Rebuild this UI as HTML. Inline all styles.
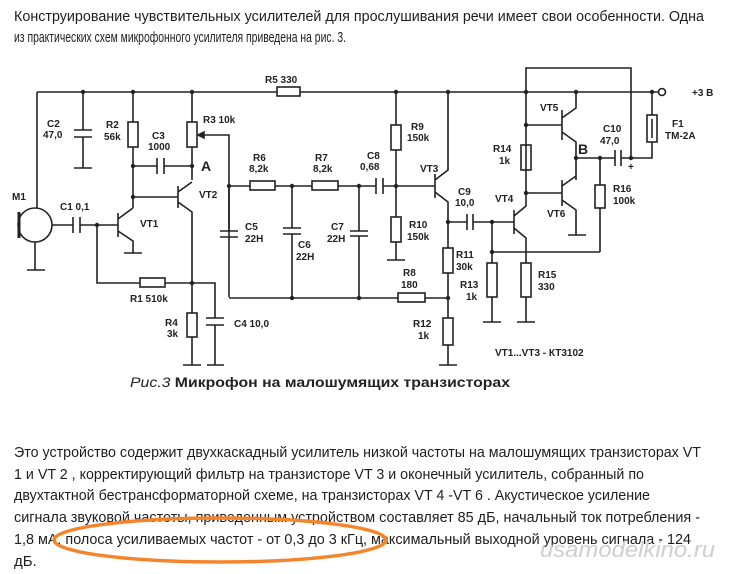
<!DOCTYPE html>
<html><head><meta charset="utf-8"><style>
body{margin:0;background:#fff;width:729px;height:574px;overflow:hidden}
svg{display:block}
.t{font-family:"Liberation Sans","DejaVu Sans",sans-serif;font-size:15px;fill:#1e1e1e}
.l{font-family:"Liberation Sans",sans-serif;font-size:10px;font-weight:bold;fill:#222}
</style></head><body>
<svg width="729" height="574" viewBox="0 0 729 574" xmlns="http://www.w3.org/2000/svg">
<g class="t">
<text x="14" y="21" textLength="690" lengthAdjust="spacingAndGlyphs">Конструирование чувствительных усилителей для прослушивания речи имеет свои особенности. Одна</text>
<text x="14" y="42" textLength="332" lengthAdjust="spacingAndGlyphs">из практических схем микрофонного усилителя приведена на рис. 3.</text>
<text x="14" y="457" textLength="687" lengthAdjust="spacingAndGlyphs">Это устройство содержит двухкаскадный усилитель низкой частоты на малошумящих транзисторах VT</text>
<text x="14" y="479" textLength="630" lengthAdjust="spacingAndGlyphs">1 и VT 2 , корректирующий фильтр на транзисторе VT 3 и оконечный усилитель, собранный по</text>
<text x="14" y="500" textLength="636" lengthAdjust="spacingAndGlyphs">двухтактной бестрансформаторной схеме, на транзисторах VT 4 -VT 6 . Акустическое усиление</text>
<text x="14" y="522" textLength="686" lengthAdjust="spacingAndGlyphs">сигнала звуковой частоты, приведенным устройством составляет 85 дБ, начальный ток потребления -</text>
<text x="14" y="544" textLength="677" lengthAdjust="spacingAndGlyphs">1,8 мА, полоса усиливаемых частот - от 0,3 до 3 кГц, максимальный выходной уровень сигнала - 124</text>
<text x="14" y="566">дБ.</text>
</g>
<text x="540" y="557" font-family="Liberation Sans,sans-serif" font-style="italic" font-size="22" fill="#cfcfcf" textLength="175" lengthAdjust="spacingAndGlyphs">usamodelkino.ru</text>
<ellipse cx="220" cy="540" rx="166" ry="22" fill="none" stroke="#f5852a" stroke-width="3.5"/>

<g stroke="#222" stroke-width="1.6" fill="none">
<path d="M37 92H277M300 92H658"/>
<rect x="277" y="87" width="23" height="9"/>
<circle cx="662" cy="92" r="3.5"/>
<path d="M37 92V208M35 242V270M27 270H45"/>
<circle cx="35" cy="225" r="17"/>
<path d="M19 212V238" stroke-width="3"/>
<path d="M83 92V130M74 130H92M74 137H92M83 137V168M74 168H92"/>
<path d="M133 92V122M133 147V208"/>
<rect x="128" y="122" width="10" height="25"/>
<path d="M133 166H157M157 158V174M164 158V174M164 166H192"/>
<path d="M192 92V122M192 147V180"/>
<rect x="187" y="122" width="10" height="25"/>
<path d="M229 297V135H200"/>
<path d="M198 135l6-3v6z" fill="#222"/>
<path d="M133 197H178M178 186V208M178 192L192 182M178 202L192 212V283"/>
<path d="M192 283V313M192 337V365M183 365H201M192 283H215V318M206 318H224M206 325H224M215 325V365M207 365H224"/>
<rect x="187" y="313" width="10" height="24"/>
<path d="M52 225H73M73 217V233M80 217V233M80 225H118"/>
<path d="M118 213V237M118 219L133 208M118 231L133 241V253M124 253H142"/>
<path d="M97 225V283H140M165 283H192"/>
<rect x="140" y="278" width="25" height="9"/>
<path d="M229 186H250M275 186H312M338 186H376M383 186H435"/>
<rect x="250" y="181" width="25" height="9"/>
<rect x="312" y="181" width="26" height="9"/>
<path d="M220 231H238M220 237H238M229 186V231"/>
<path d="M292 186V228M283 228H301M283 234H301M292 234V298"/>
<path d="M359 186V231M350 231H368M350 236H368M359 236V298"/>
<path d="M229 298H398M425 298H448"/>
<rect x="398" y="293" width="27" height="9"/>
<path d="M376 178V194M383 178V194"/>
<path d="M396 92V125M396 150V217M396 242V260M387 260H405"/>
<rect x="391" y="125" width="10" height="25"/>
<rect x="391" y="217" width="10" height="25"/>
<path d="M435 174V198M435 180L448 170V92M435 192L448 202V248M448 273V318M448 345V365M439 365H457"/>
<rect x="443" y="248" width="10" height="25"/>
<rect x="443" y="318" width="10" height="27"/>
<path d="M448 222H467M467 214V230M473 214V230M473 222H514"/>
<path d="M514 210V234M514 216L526 206V68H631V158M514 228L526 238V263M526 297V322M517 322H535"/>
<rect x="521" y="263" width="10" height="34"/>
<path d="M492 222V263M492 297V322M483 322H501M492 252H600"/>
<rect x="487" y="263" width="10" height="34"/>
<path d="M526 125H562M526 193H562"/>
<rect x="521" y="145" width="10" height="25"/>
<path d="M562 110V140M562 118L576 108V92M562 132L576 142V180M562 180V206M562 186L576 176M562 200L576 210V235M568 235H586"/>
<path d="M576 158H615M615 150V166M621 150V166M621 158H631M631 158H652V142M652 115V92"/>
<rect x="647" y="115" width="10" height="27"/>
<path d="M652 119V138"/>
<path d="M600 158V185M600 208V252"/>
<rect x="595" y="185" width="10" height="23"/>
</g>
<g fill="#222">
<circle cx="83" cy="92" r="2.2"/><circle cx="133" cy="92" r="2.2"/><circle cx="192" cy="92" r="2.2"/>
<circle cx="133" cy="166" r="2.2"/><circle cx="133" cy="197" r="2.2"/><circle cx="192" cy="166" r="2.2"/>
<circle cx="97" cy="225" r="2.2"/><circle cx="192" cy="283" r="2.2"/>
<circle cx="229" cy="186" r="2.2"/><circle cx="292" cy="186" r="2.2"/><circle cx="359" cy="186" r="2.2"/>
<circle cx="292" cy="298" r="2.2"/><circle cx="359" cy="298" r="2.2"/>
<circle cx="396" cy="92" r="2.2"/><circle cx="448" cy="92" r="2.2"/><circle cx="396" cy="186" r="2.2"/>
<circle cx="448" cy="222" r="2.2"/><circle cx="448" cy="298" r="2.2"/><circle cx="492" cy="222" r="2.2"/>
<circle cx="492" cy="252" r="2.2"/><circle cx="526" cy="92" r="2.2"/><circle cx="576" cy="92" r="2.2"/>
<circle cx="526" cy="125" r="2.2"/><circle cx="526" cy="193" r="2.2"/><circle cx="576" cy="158" r="2.2"/>
<circle cx="600" cy="158" r="2.2"/><circle cx="631" cy="158" r="2.2"/><circle cx="652" cy="92" r="2.2"/>
</g>
<g class="l">
<text x="265" y="83">R5 330</text>
<text x="692" y="96">+3 В</text>
<text x="47" y="127">C2</text><text x="43" y="138">47,0</text>
<text x="106" y="128">R2</text><text x="104" y="140">56k</text>
<text x="152" y="139">C3</text><text x="148" y="150">1000</text>
<text x="203" y="123">R3 10k</text>
<text x="201" y="171" font-size="14">A</text>
<text x="199" y="198">VT2</text>
<text x="140" y="227">VT1</text>
<text x="12" y="200">M1</text>
<text x="60" y="210">C1 0,1</text>
<text x="130" y="302">R1 510k</text>
<text x="165" y="326">R4</text><text x="167" y="337">3k</text>
<text x="234" y="327">C4 10,0</text>
<text x="253" y="161">R6</text><text x="249" y="172">8,2k</text>
<text x="315" y="161">R7</text><text x="313" y="172">8,2k</text>
<text x="245" y="230">C5</text><text x="245" y="242">22H</text>
<text x="298" y="248">C6</text><text x="296" y="260">22H</text>
<text x="331" y="230">C7</text><text x="327" y="242">22H</text>
<text x="367" y="159">C8</text><text x="360" y="170">0,68</text>
<text x="411" y="130">R9</text><text x="407" y="141">150k</text>
<text x="420" y="172">VT3</text>
<text x="409" y="228">R10</text><text x="407" y="240">150k</text>
<text x="458" y="195">C9</text><text x="455" y="206">10,0</text>
<text x="495" y="202">VT4</text>
<text x="456" y="258">R11</text><text x="456" y="270">30k</text>
<text x="403" y="276">R8</text><text x="401" y="288">180</text>
<text x="460" y="288">R13</text><text x="466" y="300">1k</text>
<text x="413" y="327">R12</text><text x="418" y="339">1k</text>
<text x="538" y="278">R15</text><text x="538" y="290">330</text>
<text x="540" y="111">VT5</text>
<text x="493" y="152">R14</text><text x="499" y="164">1k</text>
<text x="547" y="217">VT6</text>
<text x="578" y="154" font-size="14">B</text>
<text x="603" y="132">C10</text><text x="600" y="144">47,0</text>
<text x="628" y="170">+</text>
<text x="613" y="192">R16</text><text x="613" y="204">100k</text>
<text x="672" y="127">F1</text><text x="665" y="139">TM-2A</text>
<text x="495" y="356">VT1...VT3 - КТ3102</text>
</g>
<text x="130" y="387" font-family="Liberation Sans,sans-serif" font-weight="bold" font-size="14" fill="#222" textLength="380" lengthAdjust="spacingAndGlyphs"><tspan font-style="italic" font-weight="normal">Рис.3</tspan> Микрофон на малошумящих транзисторах</text>
</svg>
</body></html>
